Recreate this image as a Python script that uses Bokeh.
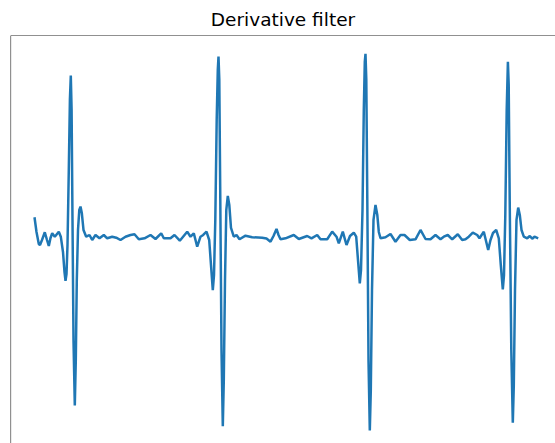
from bokeh.plotting import figure
from bokeh.models import Range1d, Span
from bokeh.embed import file_html
from bokeh.resources import INLINE

# sample index and derivative-filter output (arbitrary units)
samples = [0, 2, 4.3, 5.5, 7.5, 10.3, 12.5, 14.3, 16, 17.7, 20.3, 24.3, 26.3, 28.5, 30, 31, 32, 33,
           34.3, 35.4, 36.3, 37.1, 38, 39, 40.3, 41.3, 42.3, 43.5, 44.8, 46, 47.3, 49, 51.7, 55, 57.7,
           61, 65, 69.3, 72.7, 77.7, 81.7, 86, 91, 96, 100, 104.3, 110, 116, 121, 126.7, 129.3, 136,
           140, 145.3, 152.7, 156, 159.3, 162.7, 166, 168.7, 172, 174.7, 176.5, 178.3, 179.5, 180.8,
           182.2, 183.3, 184, 184.8, 185.8, 187, 188.3, 189.3, 190.5, 191.8, 193.3, 194.8, 196.5,
           199.3, 202, 205, 211, 217.7, 227.7, 232, 236, 239, 242, 244, 246, 251, 259.3, 264.3, 272.7,
           277, 282.7, 286, 292.7, 297.7, 302, 304.3, 308.3, 312, 315.5, 319.3, 321.7, 323.5, 325.3,
           326.5, 328, 329.3, 330.3, 331, 331.8, 332.8, 334, 335.3, 336.3, 337.5, 339, 341, 342.8,
           344.3, 346, 351, 356, 361, 366, 370, 375.3, 381, 386, 391, 396, 401, 406, 409.3, 413.3,
           417.7, 423.3, 427.7, 431, 434.3, 438.3, 442.7, 445, 449.3, 453.7, 456, 458.5, 461.7, 464.3,
           466.3, 468.3, 469.5, 470.8, 472.2, 473.4, 474.2, 475.2, 476.8, 478.3, 479.3, 480.5, 482,
           483.7, 485.3, 487, 489.3, 492.7, 495.3, 497.7, 500, 503.7]
values = [2.07, 0.6, -0.6, -0.7, -0.2, 0.57, -0.2, -0.8, 0.0, 0.47, 0.13, 0.63, 0.13, -1.4, -3.4, -4.27,
          -3.6, -0.7, 6.8, 13.8, 16.2, 12.8, 1.8, -10.2, -16.7, -12.2, -4.2, 0.8, 2.8, 3.13, 2.5, 0.8,
          0.13, 0.3, -0.2, 0.3, -0.03, 0.3, -0.03, 0.13, 0.03, -0.2, 0.13, 0.3, 0.37, -0.13, -0.03, 0.3,
          -0.1, 0.47, -0.03, -0.03, 0.3, -0.27, 0.63, 0.13, 0.47, -0.87, 0.13, 0.3, 0.63, -0.2, -2.7,
          -5.2, -3.7, 1.8, 11.8, 16.8, 18.1, 15.8, 3.8, -11.2, -18.77, -14.2, -4.2, 2.8, 4.2, 3.3, 1.0,
          0.13, 0.3, -0.13, 0.23, 0.07, 0.03, -0.05, -0.37, 0.2, 0.9, 0.3, -0.13, -0.03, 0.3, -0.1, 0.2,
          -0.03, 0.3, -0.13, -0.13, 0.63, 0.13, -0.53, 0.63, -0.7, 0.2, 0.53, 0.13, -2.2, -4.53, -3.2,
          2.8, 12.8, 17.6, 18.37, 15.8, 3.8, -12.2, -19.2, -15.2, -5.2, 1.8, 3.3, 2.3, 0.6, -0.03, 0.07,
          0.4, -0.37, 0.3, 0.3, -0.2, -0.13, 0.8, -0.1, -0.13, 0.3, -0.13, 0.13, 0.3, -0.13, 0.37, -0.2,
          -0.13, 0.13, 0.53, 0.3, -0.03, 0.63, -1.2, -0.2, 0.5, 0.8, -0.03, -2.7, -5.13, -3.7, 2.3,
          12.8, 17.57, 15.3, 3.8, -11.2, -18.43, -14.7, -5.2, 1.8, 3.03, 2.3, 0.8, 0.13, -0.03, 0.2,
          -0.07, 0.13, -0.03]
title_text = "Derivative filter"

x_start, x_end = -24, 521
y_start, y_end = -20.5, 20.2

p = figure(width=555, height=443, x_range=Range1d(x_start, x_end), y_range=Range1d(y_start, y_end),
           output_backend="svg", toolbar_location=None, title=title_text,
           min_border_left=10, min_border_right=0, min_border_bottom=0, min_border_top=0)
p.title.text_font = "DejaVu Sans"
p.title.text_font_size = "18.5px"
p.title.text_font_style = "normal"
p.title.text_color = "black"
p.title.align = "center"
p.title.offset = 3
p.title.padding = 3
p.title.standoff = 6
p.axis.visible = False
p.grid.visible = False
p.outline_line_color = None
p.background_fill_color = "white"
p.border_fill_color = "white"

p.line(samples, values, line_color="#1f77b4", line_width=2.5)

p.add_layout(Span(location=x_start, dimension="height", line_color="#222222", line_width=1.2))
p.add_layout(Span(location=y_end, dimension="width", line_color="#222222", line_width=1.2))

open("out.html", "w").write(file_html(p, INLINE))
